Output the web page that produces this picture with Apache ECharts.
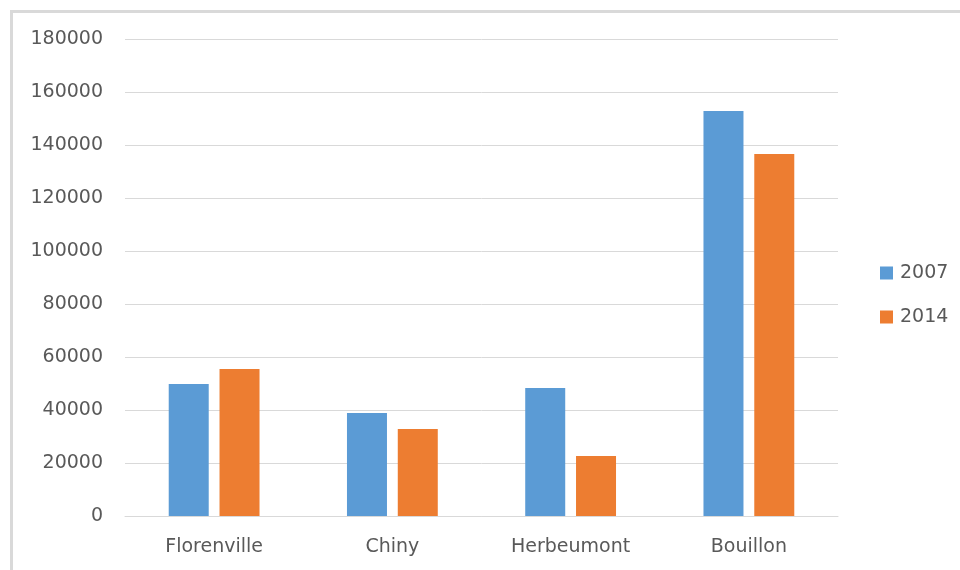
<!DOCTYPE html>
<html>
<head>
<meta charset="utf-8">
<script src="https://cdn.jsdelivr.net/npm/echarts@6/dist/echarts.min.js"></script>
<style>
  html, body { margin: 0; padding: 0; background: #fff; }
  #chart { width: 960px; height: 570px; }
</style>
</head>
<body>
<div id="chart"></div>
<script>
// data
const communes = ['Florenville', 'Chiny', 'Herbeumont', 'Bouillon'];
const values2007 = [49800, 38900, 48300, 152800];
const values2014 = [55500, 32800, 22600, 136600];
const seriesNames = ['2007', '2014'];

const textColor = '#595959';
const gridColor = '#d9d9d9';
const font = 'DejaVu Sans';

const chart = echarts.init(document.getElementById('chart'), null, { renderer: 'canvas' });

const option = {
  animation: false,
  backgroundColor: '#fff',
  textStyle: { fontFamily: font },
  // light frame on top and left edges
  graphic: [
    { type: 'rect', shape: { x: 10, y: 10, width: 950, height: 3 }, style: { fill: gridColor }, silent: true },
    { type: 'rect', shape: { x: 10, y: 10, width: 3, height: 560 }, style: { fill: gridColor }, silent: true },
  ],
  grid: { left: 125, right: 122, top: 39, bottom: 54 },
  legend: {
    orient: 'vertical',
    left: 880,
    top: 263,
    padding: 0,
    itemWidth: 13,
    itemHeight: 13,
    itemGap: 24,
    icon: 'rect',
    data: seriesNames,
    textStyle: { color: textColor, fontSize: 19, fontFamily: font, lineHeight: 20, padding: [0, 0, 0, 2] },
  },
  xAxis: {
    type: 'category',
    data: communes,
    axisLine: { lineStyle: { color: gridColor, width: 1 } },
    axisTick: { show: false },
    axisLabel: { color: textColor, fontSize: 19, fontFamily: font, margin: 22 },
  },
  yAxis: {
    type: 'value',
    min: 0,
    max: 180000,
    interval: 20000,
    axisLine: { show: false },
    axisTick: { show: false },
    splitLine: { lineStyle: { color: gridColor, width: 1 } },
    axisLabel: {
      color: textColor,
      fontSize: 19,
      fontFamily: font,
      margin: 22,
      formatter: (v) => String(v),
    },
  },
  series: [
    {
      name: seriesNames[0],
      type: 'bar',
      data: values2007,
      barWidth: 40,
      barGap: '27%',
      itemStyle: { color: '#5b9bd5' },
    },
    {
      name: seriesNames[1],
      type: 'bar',
      data: values2014,
      barWidth: 40,
      barGap: '27%',
      itemStyle: { color: '#ed7d31' },
    },
  ],
};

chart.setOption(option);
</script>
</body>
</html>
